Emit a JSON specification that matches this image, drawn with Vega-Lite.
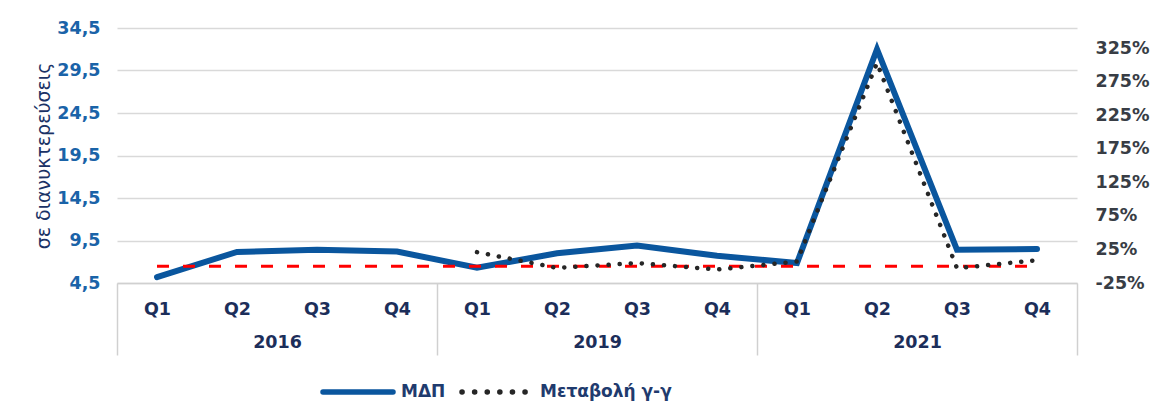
{
  "$schema": "https://vega.github.io/schema/vega-lite/v6.json",
  "width": 960,
  "height": 255,
  "autosize": {"type": "none"},
  "padding": {"left": 117, "top": 28, "right": 80, "bottom": 118},
  "background": "white",
  "config": {"view": {"stroke": null}, "font": "DejaVu Sans"},
  "datasets": {
    "gdp": [
      {"idx": 0, "series": "ΜΔΠ", "val": 5.2},
      {"idx": 1, "series": "ΜΔΠ", "val": 8.15},
      {"idx": 2, "series": "ΜΔΠ", "val": 8.4},
      {"idx": 3, "series": "ΜΔΠ", "val": 8.2},
      {"idx": 4, "series": "ΜΔΠ", "val": 6.3},
      {"idx": 5, "series": "ΜΔΠ", "val": 8.0},
      {"idx": 6, "series": "ΜΔΠ", "val": 8.9},
      {"idx": 7, "series": "ΜΔΠ", "val": 7.7},
      {"idx": 8, "series": "ΜΔΠ", "val": 6.85},
      {"idx": 9, "series": "ΜΔΠ", "val": 32.0},
      {"idx": 10, "series": "ΜΔΠ", "val": 8.4},
      {"idx": 11, "series": "ΜΔΠ", "val": 8.5}
    ],
    "yoy": [
      {"idx": 4, "series": "Μεταβολή γ-γ", "val": 21},
      {"idx": 5, "series": "Μεταβολή γ-γ", "val": -2.5},
      {"idx": 6, "series": "Μεταβολή γ-γ", "val": 4.8},
      {"idx": 7, "series": "Μεταβολή γ-γ", "val": -5},
      {"idx": 8, "series": "Μεταβολή γ-γ", "val": 7},
      {"idx": 9, "series": "Μεταβολή γ-γ", "val": 303},
      {"idx": 10, "series": "Μεταβολή γ-γ", "val": -3},
      {"idx": 11, "series": "Μεταβολή γ-γ", "val": 9}
    ],
    "ref": [
      {"idx": 0, "v": 0},
      {"idx": 11, "v": 0}
    ]
  },
  "layer": [
    {
      "data": {"name": "gdp"},
      "mark": {"type": "line", "strokeWidth": 6, "strokeCap": "round", "strokeJoin": "miter"},
      "encoding": {
        "x": {
          "field": "idx", "type": "quantitative",
          "scale": {"domain": [-0.5, 11.5], "nice": false, "zero": false},
          "axis": {
            "orient": "bottom",
            "values": [0, 1, 2, 3, 4, 5, 6, 7, 8, 9, 10, 11],
            "labelExpr": "'Q' + (datum.value % 4 + 1)",
            "labelOverlap": false, "labelFlush": false,
            "labelFont": "DejaVu Sans", "labelFontSize": 17.5, "labelFontWeight": "bold", "labelColor": "#1c2e5a",
            "labelPadding": 17,
            "ticks": false, "grid": false,
            "domain": true, "domainColor": "#d0d0d0", "domainWidth": 1.5,
            "title": null
          }
        },
        "y": {
          "field": "val", "type": "quantitative",
          "scale": {"domain": [4.5, 34.5], "nice": false, "zero": false},
          "axis": {
            "orient": "left",
            "values": [4.5, 9.5, 14.5, 19.5, 24.5, 29.5, 34.5],
            "labelExpr": "replace(format(datum.value, '.1f'), '.', ',')",
            "labelFont": "DejaVu Sans", "labelFontSize": 17.5, "labelFontWeight": "bold", "labelColor": "#1a63a8",
            "labelPadding": 17,
            "ticks": false, "domain": false,
            "grid": true, "gridColor": "#d9d9d9", "gridWidth": 1.5,
            "title": "σε διανυκτερεύσεις",
            "titleFont": "DejaVu Sans", "titleFontSize": 19, "titleFontWeight": "normal", "titleColor": "#1a3266",
            "titlePadding": 3
          }
        },
        "color": {
          "field": "series", "type": "nominal",
          "scale": {"domain": ["ΜΔΠ", "Μεταβολή γ-γ"], "range": ["#0a569e", "#262626"]},
          "legend": {
            "orient": "none", "legendX": 203, "legendY": 326, "direction": "horizontal",
            "title": null, "padding": 0,
            "symbolType": "stroke", "symbolSize": 4900, "symbolStrokeWidth": 5.5,
            "labelFont": "DejaVu Sans", "labelFontSize": 17, "labelFontWeight": "bold", "labelColor": "#1f3b6e",
            "labelOffset": 5, "columnPadding": 5,
            "encode": {"symbols": {"update": {
              "strokeCap": {"value": "round"},
              "strokeDash": {"signal": "datum.value === 'ΜΔΠ' ? [1, 0] : [0.1, 12.5]"}
            }}}
          }
        }
      }
    },
    {
      "data": {"name": "ref"},
      "mark": {"type": "line", "color": "#ff0000", "strokeWidth": 3, "strokeDash": [12, 14]},
      "encoding": {
        "x": {
          "field": "idx", "type": "quantitative",
          "scale": {"domain": [-0.5, 11.5], "nice": false, "zero": false},
          "axis": {
            "orient": "bottom",
            "values": [-0.5, 3.5, 7.5, 11.5],
            "labels": false, "ticks": true, "tickSize": 72, "tickColor": "#d0d0d0", "tickWidth": 1.5,
            "domain": false, "grid": false, "title": null
          }
        },
        "y": {
          "field": "v", "type": "quantitative",
          "scale": {"domain": [-25, 355], "nice": false, "zero": false},
          "axis": null
        }
      }
    },
    {
      "data": {"name": "yoy"},
      "mark": {"type": "line", "strokeWidth": 4.5, "strokeCap": "round", "strokeDash": [0.1, 11]},
      "encoding": {
        "x": {
          "field": "idx", "type": "quantitative",
          "scale": {"domain": [-0.5, 11.5], "nice": false, "zero": false},
          "axis": {
            "orient": "bottom",
            "values": [1.5, 5.5, 9.5],
            "labelExpr": "datum.value < 3 ? '2016' : (datum.value < 7 ? '2019' : '2021')",
            "labelOverlap": false, "labelFlush": false,
            "labelFont": "DejaVu Sans", "labelFontSize": 17.5, "labelFontWeight": "bold", "labelColor": "#1c2e5a",
            "labelPadding": 50,
            "ticks": false, "domain": false, "grid": false, "title": null
          }
        },
        "y": {
          "field": "val", "type": "quantitative",
          "scale": {"domain": [-25, 355], "nice": false, "zero": false},
          "axis": {
            "orient": "right",
            "values": [-25, 25, 75, 125, 175, 225, 275, 325],
            "labelExpr": "datum.value + '%'",
            "labelAlign": "left",
            "labelFont": "DejaVu Sans", "labelFontSize": 17.5, "labelFontWeight": "bold", "labelColor": "#383d45",
            "labelPadding": 18,
            "ticks": false, "domain": false, "grid": false, "title": null
          }
        },
        "color": {"field": "series", "type": "nominal"}
      }
    }
  ],
  "resolve": {"scale": {"x": "independent", "y": "independent"}}
}
